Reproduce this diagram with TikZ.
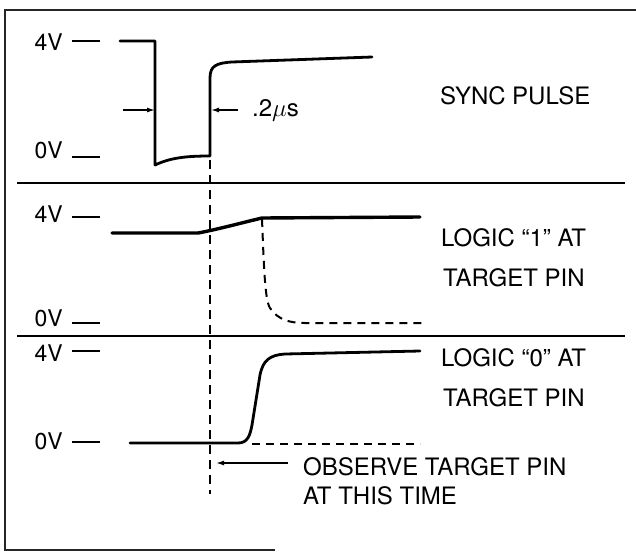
\documentclass[tikz,border=0pt]{standalone}
\usepackage{fontspec}
\setmainfont{TeX Gyre Heros}
\usetikzlibrary{arrows.meta}

\begin{document}
\begin{tikzpicture}[
    x=1pt, y=-1pt,
    frm/.style={line width=1.2pt, black!85},
    sep/.style={line width=1.3pt},
    wave/.style={line width=2.8pt, line join=round, line cap=round},
    ghost/.style={line width=2pt, dash pattern=on 8pt off 6pt},
    marker/.style={line width=1.3pt, dash pattern=on 9pt off 6pt},
    tick/.style={line width=1.4pt},
    lvl/.style={font=\fontsize{23}{25}\selectfont, anchor=base east, inner sep=0pt},
    txt/.style={font=\fontsize{24}{28}\selectfont, anchor=base west, inner sep=0pt},
    ptr/.style={-{Latex[length=8pt,width=5pt]}, line width=1.4pt},
]
\useasboundingbox (0,0) rectangle (636,554);
\draw[frm] (636,10) -- (5,10) -- (5,550) -- (275,550);
\draw[sep] (17,183) -- (625,183);
\draw[sep] (17,336) -- (625,336);
\node[lvl] (hiA) at (63,50) {4V};
\node[lvl] (loA) at (63,158) {0V};
\node[lvl] (hiB) at (63,222) {4V};
\node[lvl] (loB) at (63,326) {0V};
\node[lvl] (hiC) at (63,361) {4V};
\node[lvl] (loC) at (63,449) {0V};
\draw[tick] (72,41) -- (100,41);
\draw[tick] (72,157) -- (100,157);
\draw[tick] (72,217) -- (100,217);
\draw[tick] (72,323) -- (100,323);
\draw[tick] (72,351) -- (100,351);
\draw[tick] (72,442) -- (100,442);
\draw[wave] (120,41) -- (155,41) -- (155,165)
    .. controls (170,158) and (185,156) .. (210,156) -- (210,78)
    .. controls (210,66) and (216,63) .. (232,62) -- (372,57);
\coordinate (fall) at (155,110);
\coordinate (fallTail) at (123,110);
\coordinate (rise) at (211,110);
\coordinate (riseTail) at (238,110);
\draw[ptr] (fallTail) -- (fall);
\draw[ptr] (riseTail) -- (rise);
\node[txt] (width) at (252,116) {.2$\mu$s};
\node[txt] (sync) at (440,104) {SYNC PULSE};
\draw[wave, line width=3.4pt] (112,233) -- (198,233)
    .. controls (215,230) and (245,222) .. (262,218) -- (420,217);
\draw[ghost] (262,219) .. controls (264,270) and (265,300) .. (270,308)
    .. controls (278,320) and (290,323) .. (305,323) -- (427,323);
\node[txt] (oneA) at (441,246) {LOGIC “1” AT};
\node[txt] (oneB) at (443,286) {TARGET PIN};
\draw[wave] (130,443) -- (238,443)
    .. controls (248,443) and (250,435) .. (252,425) -- (260,375)
    .. controls (263,360) and (270,355) .. (285,354) -- (420,351);
\draw[ghost] (252,444) -- (420,444);
\node[txt] (zeroA) at (441,366) {LOGIC “0” AT};
\node[txt] (zeroB) at (443,406) {TARGET PIN};
\coordinate (mTop) at (210,160);
\coordinate (mBot) at (210,494);
\draw[marker] (mTop) -- (mBot);
\node[txt] (obsA) at (303,475) {OBSERVE TARGET PIN};
\node[txt] (obsB) at (303,504) {AT THIS TIME};
\coordinate (obsHead) at (216,463);
\coordinate (obsTail) at (288,463);
\draw[ptr] (obsTail) -- (obsHead);
\end{tikzpicture}
\end{document}
